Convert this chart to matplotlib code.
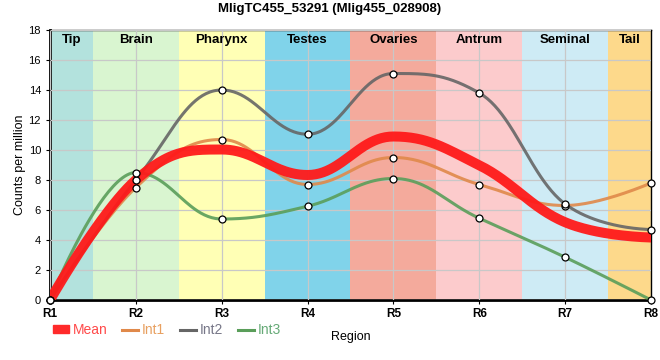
import numpy as np
import matplotlib
matplotlib.use('Agg')
import matplotlib.pyplot as plt
from matplotlib.patches import Patch
from matplotlib.lines import Line2D

plt.rcParams['font.family'] = ['Liberation Sans', 'DejaVu Sans']

regions = ['R1', 'R2', 'R3', 'R4', 'R5', 'R6', 'R7', 'R8']
int1 = [0, 7.5, 10.7, 7.7, 9.5, 7.7, 6.3, 7.8]
int2 = [0, 8.0, 14.0, 11.05, 15.1, 13.8, 6.4, 4.7]
int3 = [0, 8.5, 5.4, 6.25, 8.1, 5.45, 2.85, 0]
mean = list(np.mean([int1, int2, int3], axis=0))

bands = ['Tip', 'Brain', 'Pharynx', 'Testes', 'Ovaries', 'Antrum', 'Seminal', 'Tail']
band_colors = ['#b3e2dd', '#d9f5d0', '#ffffb5', '#80d3ea', '#f4aa9c', '#fccbcc', '#ceebf5', '#fdd98b']


def spline(y, n=50, smoothing=1.5):
    # smooth bezier path through the points, control points clamped so no overshoot
    y = list(map(float, y))
    x = list(map(float, range(len(y))))
    d = smoothing + 1
    lc = [None] * len(y)
    rc = [None] * len(y)
    for i in range(1, len(y) - 1):
        lx = (smoothing * x[i] + x[i - 1]) / d
        ly = (smoothing * y[i] + y[i - 1]) / d
        rx = (smoothing * x[i] + x[i + 1]) / d
        ry = (smoothing * y[i] + y[i + 1]) / d
        corr = (ry - ly) * (rx - x[i]) / (rx - lx) + y[i] - ry
        ly += corr
        ry += corr
        if ly > y[i - 1] and ly > y[i]:
            ly = max(y[i - 1], y[i]); ry = 2 * y[i] - ly
        elif ly < y[i - 1] and ly < y[i]:
            ly = min(y[i - 1], y[i]); ry = 2 * y[i] - ly
        if ry > y[i + 1] and ry > y[i]:
            ry = max(y[i + 1], y[i]); ly = 2 * y[i] - ry
        elif ry < y[i + 1] and ry < y[i]:
            ry = min(y[i + 1], y[i]); ly = 2 * y[i] - ry
        lc[i] = (lx, ly)
        rc[i] = (rx, ry)
    xs, ys = [], []
    t = np.linspace(0, 1, n)
    for i in range(len(y) - 1):
        p0 = (x[i], y[i])
        p1 = rc[i] or p0
        p3 = (x[i + 1], y[i + 1])
        p2 = lc[i + 1] or p3
        b = [(1 - t)**3, 3 * (1 - t)**2 * t, 3 * (1 - t) * t**2, t**3]
        xs.extend(b[0] * p0[0] + b[1] * p1[0] + b[2] * p2[0] + b[3] * p3[0])
        ys.extend(b[0] * p0[1] + b[1] * p1[1] + b[2] * p2[1] + b[3] * p3[1])
    return np.array(xs), np.array(ys)


fig = plt.figure(figsize=(6.6, 3.6), dpi=100)
ax = fig.add_axes([50 / 660, 60 / 360, 601 / 660, 270 / 360])

for i, (b, c) in enumerate(zip(bands, band_colors)):
    lo = max(i - 0.5, 0)
    hi = min(i + 0.5, len(regions) - 1)
    ax.axvspan(lo, hi, color=c, lw=0, zorder=0)
    ax.text((lo + hi) / 2, 17.35, b, ha='center', va='center', fontsize=9.5,
            fontweight='bold', zorder=5)

ax.set_xlim(0, len(regions) - 1)
ax.set_ylim(0, 18)
ax.set_yticks(range(0, 19, 2))
ax.set_xticks(range(len(regions)))
ax.set_xticklabels(regions, fontweight='bold', fontsize=8.5)
ax.tick_params(axis='y', labelsize=8, length=3)
ax.tick_params(axis='x', length=3, pad=3)
ax.grid(True, color='#c8c8c8', lw=0.9, zorder=1)
ax.set_axisbelow(False)
for sp in ['left', 'bottom']:
    ax.spines[sp].set_linewidth(2)
for sp in ['top', 'right']:
    ax.spines[sp].set_linewidth(1)

series = [(int1, '#e0894a', 'Int1'), (int2, '#666666', 'Int2'), (int3, '#5a9e5a', 'Int3')]
for vals, col, name in series:
    xs, ys = spline(vals)
    ax.plot(xs, ys, color=col, lw=2.2, alpha=0.9, zorder=3)

xs, ys = spline(mean)
ax.plot(xs, ys, color='#ff1a1a', lw=7.2, alpha=0.95, zorder=4)

for vals, col, name in series:
    ax.plot(range(len(vals)), vals, 'o', ms=5, mfc='white', mec='black', mew=0.9,
            zorder=6, clip_on=False)

ax.set_ylabel('Counts per million', fontsize=9)
ax.yaxis.set_label_coords(-0.04, 0.5)
ax.set_xlabel('Region', fontsize=9)
ax.xaxis.set_label_coords(0.5, -0.115)

fig.text(0.5, 0.975, 'MligTC455_53291 (Mlig455_028908)', ha='center', va='center',
         fontsize=9.5, fontweight='bold')

handles = [Patch(color='#ff2a2a', label='Mean'),
           Line2D([], [], color='#e0894a', lw=2.2, label='Int1'),
           Line2D([], [], color='#666666', lw=2.2, label='Int2'),
           Line2D([], [], color='#5a9e5a', lw=2.2, label='Int3')]
leg = fig.legend(handles=handles, loc='center left', bbox_to_anchor=(53 / 660, 30 / 360),
                 ncol=4, frameon=False, fontsize=10, handlelength=1.15, handleheight=0.5,
                 handletextpad=0.25, columnspacing=1.1, borderaxespad=0, borderpad=0,
                 labelcolor=['#ff4a4a', '#e8a060', '#777788', '#66aa77'])

fig.savefig('out.png', dpi=100)
